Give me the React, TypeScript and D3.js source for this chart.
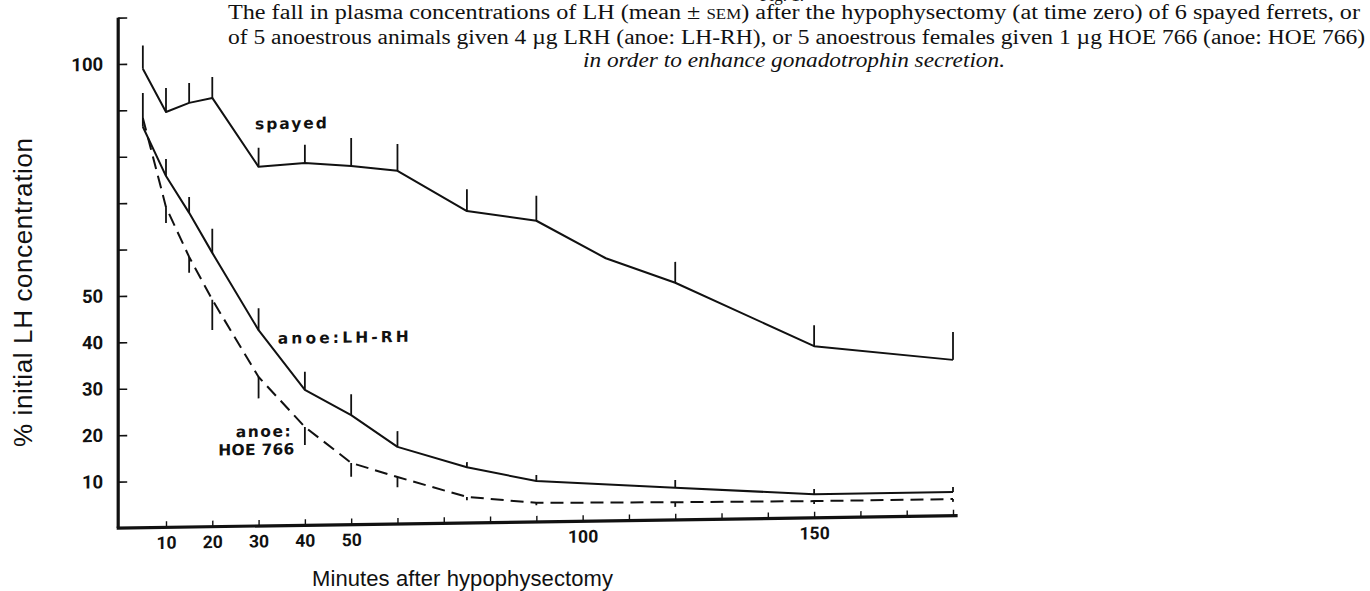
import React, { useEffect, useRef } from 'react';
import * as d3 from 'd3';

// sampling times (minutes after hypophysectomy)
const spayedMinutes = [5, 10, 15, 20, 30, 40, 50, 60, 75, 90, 105, 120, 150, 180];
const spayedMean = [98.9, 89.5, 91.4, 92.4, 77.4, 78.1, 77.3, 76.1, 67.2, 64.9, 56.6, 51.1, 37.0, 33.6];
const spayedSem = [5.0, 5.2, 4.3, 4.5, 4.1, 3.9, 6.0, 5.8, 4.7, 5.4, 0, 4.5, 4.5, 6.0];

const anoeMinutes = [5, 10, 15, 20, 30, 40, 50, 60, 75, 90, 120, 150, 180];
const lhrhMean = [86.4, 75.7, 67.7, 59.0, 42.2, 29.2, 23.6, 16.6, 12.0, 8.8, 6.9, 5.1, 5.1];
const lhrhSem = [7.3, 3.7, 3.4, 5.2, 4.7, 3.9, 4.5, 3.4, 1.1, 1.3, 1.7, 1.1, 1.1];
const hoeMean = [88.3, 69.0, 58.2, 48.9, 32.1, 21.2, 13.3, 10.1, 5.6, 4.1, 3.8, 3.6, 3.6];
const hoeSem = [0, 3.4, 3.4, 6.5, 4.6, 3.9, 3.0, 2.2, 0.7, 0.5, 1.0, 0.6, 0.6];

const yTicks = [10, 20, 30, 40, 50, 60, 70, 80, 90, 100, 110];
const yLabelled = [10, 20, 30, 40, 50, 100];
const xTicks = [10, 20, 30, 40, 50, 60, 70, 80, 90, 100, 110, 120, 130, 140, 150, 160, 170, 180];
const xLabelled = [10, 20, 30, 40, 50, 100, 150];

const W = 1370;
const H = 591;
const INK = '#111';
const serif = '"Liberation Serif", "DejaVu Serif", serif';
const sans = '"Liberation Sans", Arial, sans-serif';
const bold = 'Roboto, "Liberation Sans", sans-serif';
const labelFont = '"DejaVu Sans", sans-serif';

const App = () => {
    const svgRef = useRef<SVGSVGElement>(null);

    useEffect(() => {
        if (!svgRef.current) return;
        const svg = d3.select(svgRef.current);
        svg.selectAll('*').remove();

        const x = d3.scaleLinear().domain([0, 180]).range([119.7, 953]);
        const y = d3.scaleLinear().domain([0, 110]).range([528, 17.6]);

        // the scanned x axis rises a little to the right
        const ox = x(0), oy = y(0);
        const plot = svg.append('g')
            .attr('transform', `translate(${ox},${oy}) skewY(-0.84) translate(${-ox},${-oy})`);

        // y axis
        const yAxis = plot.append('g')
            .attr('transform', `translate(${ox - 1.5},0)`)
            .call(d3.axisLeft(y)
                .tickValues(yTicks)
                .tickSizeInner(-9)
                .tickSizeOuter(0)
                .tickPadding(15)
                .tickFormat((d: any) => (yLabelled.includes(d) ? String(d) : '')));
        yAxis.select('.domain').remove();
        yAxis.selectAll('.tick line').attr('stroke', INK).attr('stroke-width', 1.6);
        yAxis.selectAll('.tick text')
            .attr('fill', INK)
            .attr('font-family', bold)
            .attr('font-weight', 700)
            .attr('font-size', 18.5);

        // x axis
        const xAxis = plot.append('g')
            .attr('transform', `translate(0,${oy})`)
            .call(d3.axisBottom(x)
                .tickValues(xTicks)
                .tickSizeInner(-6)
                .tickSizeOuter(0)
                .tickPadding(9)
                .tickFormat((d: any) => (xLabelled.includes(d) ? String(d) : '')));
        xAxis.select('.domain').remove();
        xAxis.selectAll('.tick line').attr('stroke', INK).attr('stroke-width', 1.4);
        xAxis.selectAll('.tick text')
            .attr('fill', INK)
            .attr('font-family', bold)
            .attr('font-weight', 700)
            .attr('font-size', 17.5);

        plot.append('line')
            .attr('x1', ox - 1.5).attr('x2', ox - 1.5)
            .attr('y1', oy).attr('y2', y(110))
            .attr('stroke', INK).attr('stroke-width', 3.2);
        plot.append('line')
            .attr('x1', ox - 3).attr('x2', x(181))
            .attr('y1', oy).attr('y2', oy)
            .attr('stroke', INK).attr('stroke-width', 3.2);

        const line = d3.line<[number, number]>()
            .x(d => x(d[0]))
            .y(d => y(d[1]));

        const series = [
            { t: spayedMinutes, m: spayedMean, s: spayedSem, dir: 1, dash: null },
            { t: anoeMinutes, m: lhrhMean, s: lhrhSem, dir: 1, dash: null },
            { t: anoeMinutes, m: hoeMean, s: hoeSem, dir: -1, dash: '13,7' }
        ];

        series.forEach(sr => {
            const pts = sr.t.map((t, i) => [t, sr.m[i]] as [number, number]);
            plot.append('path')
                .attr('d', line(pts))
                .attr('fill', 'none')
                .attr('stroke', INK)
                .attr('stroke-width', 2)
                .attr('stroke-linejoin', 'round')
                .attr('stroke-dasharray', sr.dash);

            // one-sided SEM bars: above for solid lines, below for the dashed one
            plot.selectAll(null)
                .data(sr.t.map((t, i) => [t, sr.m[i], sr.s[i]]).filter(d => d[2] > 0))
                .join('line')
                .attr('x1', d => x(d[0])).attr('x2', d => x(d[0]))
                .attr('y1', d => y(d[1]))
                .attr('y2', d => y(d[1] + sr.dir * d[2]))
                .attr('stroke', INK)
                .attr('stroke-width', 1.8);
        });

        // series labels
        const labels = [
            { text: 'spayed', t: 37, v: 85.5, len: 72 },
            { text: 'anoe:LH-RH', t: 48.3, v: 39.2, len: 131 },
            { text: 'anoe:', t: 31, v: 19.2, len: 55 },
            { text: 'HOE 766', t: 29.5, v: 15.3, len: 76 }
        ];
        plot.selectAll(null)
            .data(labels)
            .join('text')
            .attr('x', d => x(d.t) - d.len / 2)
            .attr('y', d => y(d.v))
            .attr('textLength', d => d.len)
            .attr('lengthAdjust', 'spacing')
            .attr('font-family', labelFont)
            .attr('font-weight', 700)
            .attr('font-size', 15.5)
            .attr('fill', INK)
            .text(d => d.text);

        // axis titles
        svg.append('text')
            .attr('x', 312).attr('y', 586)
            .attr('textLength', 301)
            .attr('font-family', sans)
            .attr('font-size', 22)
            .attr('fill', INK)
            .text('Minutes after hypophysectomy');

        svg.append('text')
            .attr('transform', 'translate(32,447) rotate(-90)')
            .attr('textLength', 309)
            .attr('font-family', sans)
            .attr('font-size', 26)
            .attr('fill', INK)
            .text('% initial LH concentration');

        // caption (the figure number is cut by the top edge of the scan)
        svg.append('text')
            .attr('x', 782).attr('y', 1)
            .attr('text-anchor', 'middle')
            .attr('font-family', serif)
            .attr('font-size', 17)
            .attr('fill', INK)
            .text('Fig. 1.');

        const l1 = svg.append('text')
            .attr('x', 228).attr('y', 19)
            .attr('textLength', 1132)
            .attr('lengthAdjust', 'spacingAndGlyphs')
            .attr('font-family', serif)
            .attr('font-size', 20)
            .attr('fill', INK);
        l1.append('tspan').text('The fall in plasma concentrations of LH (mean ± ');
        l1.append('tspan').attr('font-size', 14).text('SEM');
        l1.append('tspan').text(') after the hypophysectomy (at time zero) of 6 spayed ferrets, or');

        svg.append('text')
            .attr('x', 228).attr('y', 44)
            .attr('textLength', 1137)
            .attr('lengthAdjust', 'spacingAndGlyphs')
            .attr('font-family', serif)
            .attr('font-size', 20)
            .attr('fill', INK)
            .text('of 5 anoestrous animals given 4 µg LRH (anoe: LH-RH), or 5 anoestrous females given 1 µg HOE 766 (anoe: HOE 766)');

        svg.append('text')
            .attr('x', 583).attr('y', 67)
            .attr('textLength', 422)
            .attr('lengthAdjust', 'spacingAndGlyphs')
            .attr('font-family', serif)
            .attr('font-style', 'italic')
            .attr('font-size', 20)
            .attr('fill', INK)
            .text('in order to enhance gonadotrophin secretion.');
    }, []);

    return (
        <svg
            ref={svgRef}
            width={W}
            height={H}
            viewBox={`0 0 ${W} ${H}`}
            style={{ position: 'absolute', left: 0, top: 0, background: '#fff', display: 'block' }}
        />
    );
};

export default App;
